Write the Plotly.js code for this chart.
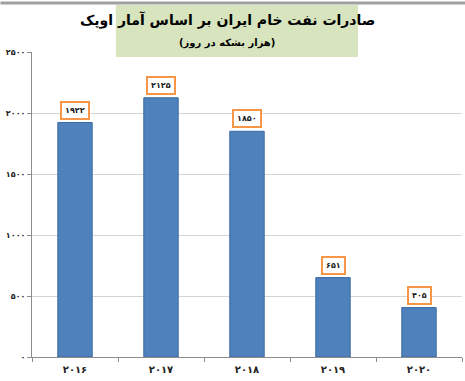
<!DOCTYPE html>
<html>
<head>
<meta charset="utf-8">
<script src="https://cdn.plot.ly/plotly-3.0.1.min.js"></script>
<style>html,body{margin:0;padding:0;background:#fff;}#chart{width:465px;height:381px;}</style>
</head>
<body>
<div id="chart"></div>
<script>
const years = ['۲۰۱۶', '۲۰۱۷', '۲۰۱۸', '۲۰۱۹', '۲۰۲۰'];
const exports = [1922, 2125, 1850, 651, 405];
const valueLabels = ['۱۹۲۲', '۲۱۲۵', '۱۸۵۰', '۶۵۱', '۴۰۵'];
const yTickVals = [0, 500, 1000, 1500, 2000, 2500];
const yTickText = ['۰', '۵۰۰', '۱۰۰۰', '۱۵۰۰', '۲۰۰۰', '۲۵۰۰'];
const titleText = 'صادرات نفت خام ایران بر اساس آمار اوپک';
const subtitleText = '(هزار بشکه در روز)';

const font = 'DejaVu Sans, sans-serif';

const trace = {
  type: 'bar',
  x: years,
  y: exports,
  marker: {color: '#4f81bd', line: {color: '#3a6aa3', width: 1}},
  width: 0.4,
  hoverinfo: 'skip'
};

const annotations = years.map((yr, i) => ({
  x: yr, y: exports[i], xref: 'x', yref: 'y',
  text: '<b>' + valueLabels[i] + '</b>',
  showarrow: false, yanchor: 'bottom', yshift: 3,
  font: {family: font, size: 8, color: '#1a1a1a'},
  bgcolor: '#ffffff', bordercolor: '#f79646', borderwidth: 2, borderpad: 3
}));

annotations.push({
  xref: 'paper', yref: 'paper', x: 0.4535, y: 1.105, yanchor: 'middle', xanchor: 'center',
  text: '<b>' + titleText + '</b>', showarrow: false,
  font: {family: font, size: 14, color: '#000'}
});
annotations.push({
  xref: 'paper', yref: 'paper', x: 0.4535, y: 1.03, yanchor: 'middle', xanchor: 'center',
  text: '<b>' + subtitleText + '</b>', showarrow: false,
  font: {family: font, size: 10, color: '#000'}
});
annotations.push({
  xref: 'paper', yref: 'paper', x: -0.0744, y: 1.168, xanchor: 'left', yanchor: 'top',
  text: ' ', showarrow: false, width: 465, height: 2, borderpad: 0,
  bgcolor: '#a0a0a0', font: {size: 1}
});

const layout = {
  width: 465, height: 381,
  margin: {l: 32, r: 3, t: 52, b: 24},
  paper_bgcolor: '#ffffff', plot_bgcolor: '#ffffff',
  showlegend: false,
  bargap: 0.6,
  xaxis: {
    type: 'category',
    showline: true, linecolor: '#8c8c8c', linewidth: 1,
    ticks: 'outside', ticklen: 4, tickcolor: '#8c8c8c',
    tickson: 'boundaries',
    showgrid: false,
    tickfont: {family: font, size: 10, color: '#222', weight: 'bold'},
    ticklabelstandoff: 3
  },
  yaxis: {
    range: [0, 2500],
    tickvals: yTickVals, ticktext: yTickText,
    showline: true, linecolor: '#8c8c8c', linewidth: 1,
    ticks: 'outside', ticklen: 4, tickcolor: '#8c8c8c',
    showgrid: true, gridcolor: '#d4d4d4', gridwidth: 1,
    zeroline: false,
    tickfont: {family: font, size: 8, color: '#222', weight: 'bold'}
  },
  shapes: [
    {type: 'rect', xref: 'paper', yref: 'paper', x0: 0.195, x1: 0.758, y0: 0.9836, y1: 1.154,
     fillcolor: '#d7e4bd', line: {width: 0}, layer: 'above'}
  ],
  annotations: annotations
};

Plotly.newPlot('chart', [trace], layout, {displayModeBar: false, staticPlot: true});
</script>
</body>
</html>
